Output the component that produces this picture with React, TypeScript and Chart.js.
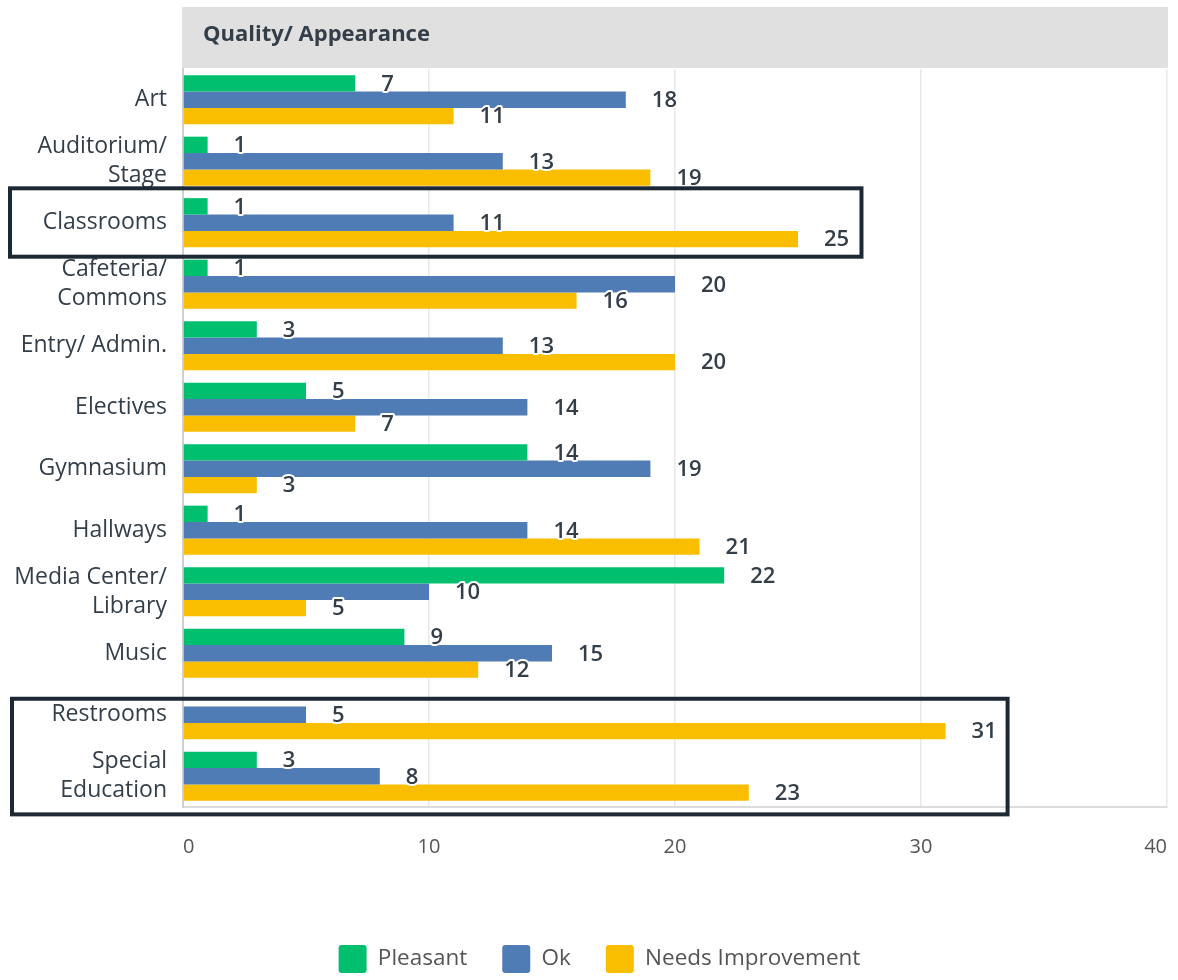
import React, { useEffect, useRef } from "react";
import { Chart, registerables } from "chart.js";

Chart.register(...registerables);

const categories: (string | string[])[] = [
  "Art",
  ["Auditorium/", "Stage"],
  "Classrooms",
  ["Cafeteria/", "Commons"],
  "Entry/ Admin.",
  "Electives",
  "Gymnasium",
  "Hallways",
  ["Media Center/", "Library"],
  "Music",
  "Restrooms",
  ["Special", "Education"],
];

const pleasant: (number | null)[] = [7, 1, 1, 1, 3, 5, 14, 1, 22, 9, null, 3];
const ok: number[] = [18, 13, 11, 20, 13, 14, 19, 14, 10, 15, 5, 8];
const needsImprovement: number[] = [11, 19, 25, 16, 20, 7, 3, 21, 5, 12, 31, 23];

const xTicks = [0, 10, 20, 30, 40];
const headerTitle = "Quality/ Appearance";
const seriesNames = ["Pleasant", "Ok", "Needs Improvement"];
const seriesColors = ["#00bf6f", "#507cb6", "#f9be00"];

// highlighted category ranges (first index, last index)
const highlightFirst = [2, 10];
const highlightLast = [2, 11];

const FONT = "'Open Sans', 'Noto Sans', sans-serif";

// annotation box geometry (in category steps / axis units)
const boxTopOff = [-0.56, -0.26];
const boxBottomOff = [0.552, 0.62];
const boxRightVal = [27.58, 33.52];
const boxLeftPx = [10, 12];

const headerPlugin = {
  id: "header",
  beforeDraw(chart: any) {
    const { ctx, chartArea } = chart;
    ctx.save();
    ctx.fillStyle = "#e0e0e0";
    ctx.fillRect(chartArea.left - 1, chartArea.top - 62, chartArea.right - chartArea.left + 2, 61);
    ctx.fillStyle = "#333e48";
    ctx.font = `bold 22px ${FONT}`;
    ctx.textBaseline = "middle";
    ctx.textAlign = "left";
    ctx.fillText(headerTitle, chartArea.left + 20, chartArea.top - 34);
    ctx.restore();
  },
};

const legendShiftPlugin = {
  id: "legendShift",
  afterLayout(chart: any) {
    const lg = chart.legend;
    if (!lg) return;
    lg.left += 32;
    lg.top += 3;
    lg.bottom += 3;
  },
};

const valueLabelPlugin = {
  id: "valueLabels",
  afterDatasetsDraw(chart: any) {
    const { ctx } = chart;
    ctx.save();
    ctx.font = `600 22px ${FONT}`;
    ctx.textBaseline = "middle";
    ctx.textAlign = "left";
    ctx.lineJoin = "round";
    chart.data.datasets.forEach((ds: any, di: number) => {
      const meta = chart.getDatasetMeta(di);
      meta.data.forEach((bar: any, i: number) => {
        const v = ds.data[i];
        if (v === null || v === undefined) return;
        const x = bar.x + 26;
        const y = bar.y + 1;
        ctx.strokeStyle = "#ffffff";
        ctx.lineWidth = 4;
        ctx.strokeText(String(v), x, y);
        ctx.fillStyle = "#333e48";
        ctx.fillText(String(v), x, y);
      });
    });
    ctx.restore();
  },
};

const highlightPlugin = {
  id: "highlight",
  afterDraw(chart: any) {
    const { ctx } = chart;
    const y = chart.scales.y;
    const x = chart.scales.x;
    const step = y.getPixelForValue(1) - y.getPixelForValue(0);
    ctx.save();
    ctx.strokeStyle = "#1c2833";
    ctx.lineWidth = 4;
    highlightFirst.forEach((f, k) => {
      const top = y.getPixelForValue(f) + step * boxTopOff[k];
      const bottom = y.getPixelForValue(highlightLast[k]) + step * boxBottomOff[k];
      const left = boxLeftPx[k];
      const right = x.getPixelForValue(boxRightVal[k]);
      ctx.strokeRect(left, top, right - left, bottom - top);
    });
    ctx.restore();
  },
};

export default function App() {
  const ref = useRef<HTMLCanvasElement | null>(null);
  useEffect(() => {
    if (!ref.current) return;
    const chart = new Chart(ref.current, {
      type: "bar",
      data: {
        labels: categories as any,
        datasets: [pleasant, ok, needsImprovement].map((d, i) => ({
          label: seriesNames[i],
          data: d as any,
          backgroundColor: seriesColors[i],
          borderWidth: 0,
          categoryPercentage: 0.8,
          barPercentage: 1,
        })),
      },
      options: {
        indexAxis: "y",
        animation: false,
        responsive: false,
        maintainAspectRatio: false,
        layout: { padding: { top: 69, right: 11, bottom: 0, left: 0 } },
        scales: {
          x: {
            min: 0,
            max: 40,
            afterBuildTicks(scale: any) {
              scale.ticks = xTicks.map((v) => ({ value: v }));
            },
            afterFit(scale: any) {
              scale.height = 100;
              scale.paddingLeft = 0;
              scale.paddingRight = 0;
              scale.paddingTop = 0;
              scale.paddingBottom = 0;
            },
            grid: { color: "#e8e8e8", drawTicks: false, lineWidth: 1.5 },
            border: { color: "#dcdcdc", width: 2 },
            ticks: {
              padding: 28,
              align: "inner",
              color: "#555",
              maxRotation: 0,
              font: { family: FONT, size: 20 },
            },
          },
          y: {
            afterFit(scale: any) {
              scale.width = 183;
              scale.paddingLeft = 0;
              scale.paddingRight = 0;
              scale.paddingTop = 0;
              scale.paddingBottom = 0;
            },
            grid: { display: false, drawTicks: false },
            border: { color: "#d0d0d0", width: 2 },
            ticks: {
              autoSkip: false,
              padding: 16,
              color: "#333e48",
              font: { family: FONT, size: 23, lineHeight: 1.26 },
            },
          },
        },
        plugins: {
          legend: {
            position: "bottom",
            labels: {
              boxWidth: 28,
              boxHeight: 28,
              useBorderRadius: true,
              borderRadius: 3,
              padding: 35,
              color: "#555",
              font: { family: FONT, size: 22.5 },
            },
          },
          tooltip: { enabled: false },
        },
      },
      plugins: [headerPlugin, legendShiftPlugin, valueLabelPlugin, highlightPlugin],
    } as any);
    return () => chart.destroy();
  }, []);
  return (
    <div style={{ position: "fixed", left: 0, top: 0, width: 1178, height: 980, background: "#fff" }}>
      <canvas ref={ref} width={1178} height={980} style={{ width: 1178, height: 980 }} />
    </div>
  );
}
